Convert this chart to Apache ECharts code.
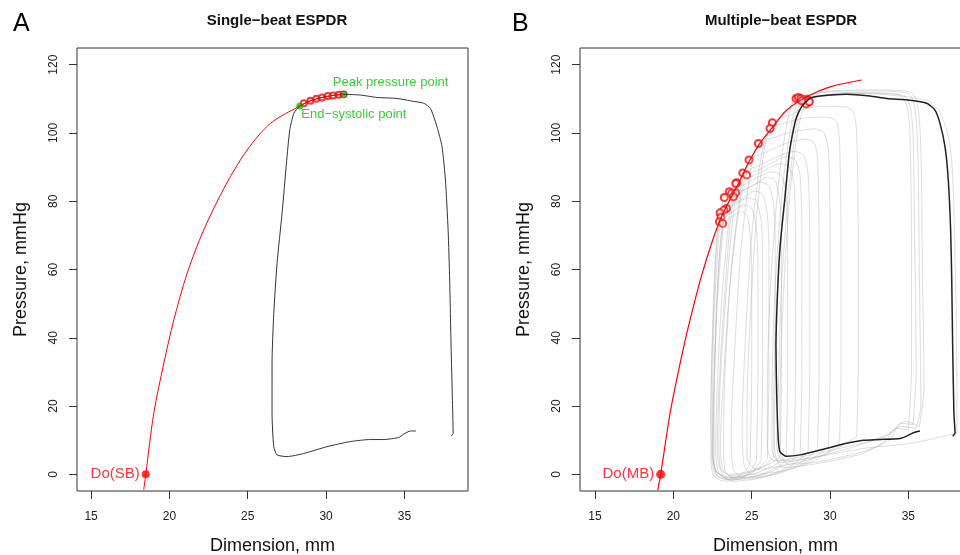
<!DOCTYPE html>
<html>
<head>
<meta charset="utf-8">
<script src="https://cdn.jsdelivr.net/npm/echarts@6/dist/echarts.min.js"></script>
<style>
  html, body { margin: 0; padding: 0; background: #fff; }
  #chart { width: 960px; height: 555px; }
</style>
</head>
<body>
<div id="chart"></div>
<script>
// ---- data (dimension mm, pressure mmHg) ----
const xTicks = [15, 20, 25, 30, 35]
const yTicks = [0, 20, 40, 60, 80, 100, 120]

// panel A : single beat
const espdrA = [[18.36, -4.6], [18.49, 0], [19.0, 17.9], [19.64, 32.5], [20.28, 45.2], [21.13, 58.9], [22.19, 71.6],
  [23.6, 84.8], [24.96, 95], [26.45, 102.8], [28.32, 107.9], [29.0, 109.4], [29.74, 110.4], [30.45, 111.0], [31.13, 111.3]]
const loopA = [[37.98, 11.2], [38.11, 12.0], [38.06, 22.7], [37.98, 37.4], [37.89, 56.9], [37.79, 71.6], [37.62, 86.2],
  [37.40, 96.0], [37.08, 101.8], [36.66, 107.2], [36.23, 108.7], [35.38, 109.4], [34.53, 110.1], [33.25, 110.4],
  [32.19, 111.1], [31.13, 111.3], [30.45, 111.0], [29.74, 110.4], [29.0, 109.4], [28.32, 107.9], [27.94, 105.7],
  [27.68, 100.8], [27.47, 91.1], [27.19, 76.4], [26.87, 61.8], [26.66, 47.1], [26.55, 32.5], [26.55, 17.9],
  [26.66, 8.1], [26.87, 5.7], [27.51, 5.2], [28.57, 6.1], [30.06, 8.1], [31.55, 9.6], [32.83, 10.2], [33.68, 10.2],
  [34.64, 10.8], [34.96, 11.8], [35.38, 12.7], [35.74, 12.7]]
const circlesA = [[28.58, 108.7], [29.0, 109.4], [29.38, 110.0], [29.74, 110.4], [30.11, 110.8], [30.45, 111.0], [30.81, 111.2]]
const endSystolicA = [28.32, 107.9]
const peakA = [31.13, 111.3]
const doSB = [18.49, 0]

// panel B : multiple beats
const espdrB = [[19.0, -4.6], [19.19, 0], [19.79, 17.9], [20.43, 32.5], [21.06, 45.2], [21.91, 59.9], [22.98, 74.5],
  [24.04, 84.2], [24.89, 92.1], [25.53, 97.0], [26.3, 101.5], [27.24, 106.7], [28.51, 110.6], [30.0, 113.5], [32.02, 115.5]]
const loopB = [[37.83, 11.2], [37.98, 12.0], [37.91, 17.9], [37.83, 37.4], [37.77, 56.9], [37.70, 71.6], [37.55, 86.2],
  [37.34, 96.0], [37.02, 102.8], [36.70, 106.7], [36.17, 108.7], [35.11, 109.6], [33.62, 110.1], [32.55, 110.8],
  [31.06, 111.3], [29.36, 110.8], [28.72, 110.1], [28.19, 107.7], [27.87, 104.7], [27.66, 100.8], [27.40, 94.0],
  [27.13, 81.3], [26.81, 66.7], [26.64, 52.0], [26.55, 37.4], [26.60, 22.7], [26.70, 10.0], [26.81, 6.6],
  [27.23, 5.3], [28.09, 5.7], [29.36, 7.1], [31.06, 9.1], [32.13, 10.0], [33.19, 10.2], [34.47, 10.5],
  [34.89, 11.2], [35.32, 12.2], [35.74, 12.7]]
const circlesB = [[26.32, 103.0], [26.17, 101.3], [25.43, 96.9], [24.83, 92.1], [24.43, 88.3], [24.68, 87.7],
  [24.04, 85.4], [23.98, 85.2], [23.57, 82.8], [23.72, 82.3], [23.98, 82.5], [23.83, 81.3], [23.25, 81.1],
  [23.40, 77.9], [23.23, 77.4], [22.98, 76.6], [23.04, 75.3], [22.94, 74.0], [23.15, 73.5],
  [27.83, 110.1], [27.98, 110.4], [28.13, 110.1], [28.30, 109.8], [28.40, 109.4], [28.51, 109.9], [28.62, 109.6],
  [28.47, 108.5], [28.68, 109.1], [28.19, 109.4]]
const doMB = [19.19, 0]
const grayLoops = [
  [[35.5, 13.5], [35.8, 20], [35.7, 60], [35.6, 95], [35.4, 108], [35.0, 111.5], [33, 112.3], [30, 112], [27.83, 110.1], [27.3, 104], [26.7, 85], [26.2, 55], [26.0, 25], [26.0, 8], [26.4, 4], [28, 5], [31, 8], [33.5, 11], [34.5, 14], [35.5, 13.5]],
  [[35.7, 14], [36, 25], [35.9, 60], [35.8, 95], [35.6, 108], [35.2, 111.8], [33, 112.6], [30, 112.3], [28.13, 110.1], [27.6, 104], [27.0, 85], [26.5, 55], [26.3, 25], [26.3, 7], [26.8, 3.5], [28.5, 4.5], [31.5, 8], [33.8, 12], [34.8, 15.5], [35.7, 14]],
  [[38.1, 12.1], [38.1, 25], [38.0, 60], [37.8, 90], [37.5, 100], [37.0, 106], [36.2, 109.5], [34, 111], [31, 111.8], [28.4, 109.4], [27.9, 103], [27.4, 85], [26.9, 55], [26.7, 25], [26.6, 8], [27, 4], [29, 5], [32, 7.5], [35.3, 9.2], [38.1, 12.1]],
  [[35.3, 14.5], [35.5, 30], [35.4, 70], [35.3, 100], [35.1, 108], [34.7, 111], [32.5, 111.8], [30.5, 111.4], [28.62, 109.6], [28.0, 102], [27.4, 80], [27.0, 50], [26.8, 20], [26.8, 7], [27.3, 3], [29, 3.5], [32, 6.5], [33.8, 10], [34.5, 15], [35.3, 14.5]],
  [[35.0, 13], [35.2, 30], [35.2, 70], [35.1, 100], [34.9, 108], [34.4, 111.2], [32, 111.6], [30, 111.0], [28.3, 109.8], [27.7, 103], [27.1, 82], [26.6, 50], [26.4, 20], [26.5, 6], [27, 2], [29, 3], [32, 6], [33.6, 10], [34.2, 13.5], [35.0, 13]],
  [[31.7, 11], [31.8, 30], [31.8, 70], [31.7, 100], [31.5, 106], [31.0, 107.6], [29.5, 107.8], [28.5, 107.2], [27.3, 105], [26.32, 103.0], [25.8, 95], [25.3, 75], [24.9, 45], [24.7, 20], [24.7, 5], [25.3, 1.5], [27, 2.5], [29.5, 5.5], [31.7, 11]],
  [[30.6, 9], [30.7, 30], [30.7, 70], [30.6, 98], [30.4, 103.5], [29.8, 104.6], [28.5, 104.5], [27.2, 103], [26.17, 101.3], [25.6, 93], [25.0, 70], [24.6, 40], [24.4, 15], [24.5, 3], [25, 0], [27, 1], [29, 4], [30.6, 9]],
  [[29.9, 8], [30.0, 30], [30.0, 70], [29.9, 95], [29.6, 100.2], [29.0, 101.2], [27.8, 100.5], [26.5, 98.8], [25.43, 96.9], [24.9, 88], [24.3, 65], [23.9, 35], [23.7, 12], [23.8, 2], [24.4, -1], [26.5, 0], [28.5, 3.5], [29.9, 8]],
  [[29.2, 7.5], [29.3, 30], [29.3, 70], [29.2, 92], [29.0, 97], [28.4, 98.2], [27.2, 97], [26, 94.5], [24.83, 92.1], [24.3, 83], [23.7, 60], [23.3, 30], [23.2, 10], [23.3, 1], [24, -1.5], [26, -0.5], [28, 3], [29.2, 7.5]],
  [[28.6, 6.5], [28.7, 30], [28.7, 70], [28.6, 88], [28.3, 93.5], [27.7, 94.6], [26.6, 93], [25.5, 90.5], [24.43, 88.3], [23.9, 79], [23.4, 55], [23.0, 28], [22.9, 8], [23.1, 0], [23.8, -2], [25.6, -1], [27.5, 2.5], [28.6, 6.5]],
  [[28.1, 6], [28.2, 30], [28.2, 70], [28.1, 87], [27.8, 92], [27.2, 93], [26.2, 91], [25.4, 89], [24.68, 87.7], [24.2, 78], [23.6, 55], [23.2, 28], [23.0, 8], [23.2, 1], [24, -1], [25.8, 0], [27.2, 3], [28.1, 6]],
  [[27.7, 6], [27.8, 30], [27.8, 70], [27.7, 85], [27.4, 90], [26.8, 91], [25.8, 89], [24.9, 87], [24.04, 85.4], [23.6, 76], [23.1, 52], [22.8, 26], [22.7, 7], [22.9, 0.5], [23.6, -1.5], [25.3, -0.5], [26.8, 2.5], [27.7, 6]],
  [[27.2, 5.5], [27.3, 30], [27.3, 70], [27.2, 82], [26.9, 87.5], [26.3, 88.6], [25.3, 86.8], [24.4, 84.5], [23.57, 82.8], [23.2, 73], [22.8, 50], [22.6, 25], [22.55, 7], [22.7, 1], [23.3, -1], [25, 0], [26.4, 2.5], [27.2, 5.5]],
  [[26.8, 5], [26.9, 30], [26.9, 70], [26.8, 80], [26.5, 86], [26.0, 87], [25.2, 85], [24.6, 83.5], [23.98, 82.5], [23.6, 72], [23.2, 48], [22.9, 24], [22.8, 7], [23.0, 1.5], [23.6, 0], [25, 1], [26.1, 3], [26.8, 5]],
  [[26.4, 5], [26.5, 30], [26.5, 70], [26.4, 79], [26.1, 84.5], [25.6, 85.6], [24.8, 84], [24.0, 82.4], [23.25, 81.1], [22.9, 70], [22.6, 46], [22.5, 22], [22.5, 6], [22.7, 1], [23.3, -0.5], [24.8, 0.5], [25.8, 2.5], [26.4, 5]],
  [[26.0, 4.5], [26.1, 30], [26.1, 65], [26.0, 76], [25.7, 82], [25.2, 83], [24.5, 81], [23.9, 79.3], [23.40, 77.9], [23.0, 67], [22.7, 44], [22.55, 20], [22.5, 5], [22.8, 0.5], [23.5, -1], [24.8, 0], [25.5, 2], [26.0, 4.5]],
  [[25.6, 4], [25.7, 30], [25.7, 65], [25.6, 74], [25.3, 80], [24.8, 81], [24.1, 79.5], [23.5, 77.8], [22.98, 76.6], [22.7, 65], [22.5, 42], [22.4, 20], [22.45, 5], [22.7, 0], [23.4, -1.5], [24.6, -0.5], [25.2, 1.5], [25.6, 4]],
  [[25.3, 4], [25.4, 30], [25.4, 62], [25.3, 72], [25.0, 78], [24.5, 79], [23.8, 77], [23.3, 75.2], [22.94, 74.0], [22.7, 62], [22.5, 40], [22.4, 18], [22.4, 4], [22.6, -0.5], [23.3, -2], [24.4, -1], [25.0, 1.5], [25.3, 4]],
  [[24.9, 3.5], [25.0, 30], [25.0, 60], [24.9, 70], [24.7, 76], [24.3, 77], [23.8, 75.5], [23.4, 74.3], [23.15, 73.5], [22.9, 62], [22.7, 40], [22.6, 18], [22.6, 4], [22.8, -0.5], [23.4, -1.5], [24.2, -0.5], [24.7, 1.5], [24.9, 3.5]]
]

const FONT = "'Liberation Sans', Arial, sans-serif"
const RED = '#ff0000'
const GREEN = '#00c400'

const chart = echarts.init(document.getElementById('chart'), null, { renderer: 'canvas' })

const makeX = (gridIndex, min, max) => ({
  type: 'value',
  gridIndex,
  min,
  max,
  axisLine: { show: false, onZero: false },
  splitLine: { show: false },
  axisTick: { show: true, length: 8, customValues: xTicks, lineStyle: { color: '#333' } },
  axisLabel: { customValues: xTicks, margin: 20, fontSize: 12, color: '#222', fontFamily: FONT },
  name: 'Dimension, mm',
  nameLocation: 'middle',
  nameGap: 46,
  nameTextStyle: { fontSize: 18, color: '#111', fontFamily: FONT }
})

const makeY = (gridIndex) => ({
  type: 'value',
  gridIndex,
  min: -4.88,
  max: 124.88,
  axisLine: { show: false, onZero: false },
  splitLine: { show: false },
  axisTick: { show: true, length: 8, customValues: yTicks, lineStyle: { color: '#333' } },
  axisLabel: { customValues: yTicks, rotate: 90, margin: 17, fontSize: 12, color: '#222', fontFamily: FONT },
  name: 'Pressure, mmHg',
  nameLocation: 'middle',
  nameGap: 47,
  nameTextStyle: { fontSize: 18, color: '#111', fontFamily: FONT }
})

const option = {
  animation: false,
  backgroundColor: '#fff',
  textStyle: { fontFamily: FONT },
  title: [
    { text: 'Single−beat ESPDR', left: 272, top: 8, textAlign: 'center',
      textStyle: { fontSize: 15, fontWeight: 'bold', color: '#111', fontFamily: FONT } },
    { text: 'Multiple−beat ESPDR', left: 776, top: 8, textAlign: 'center',
      textStyle: { fontSize: 15, fontWeight: 'bold', color: '#111', fontFamily: FONT } }
  ],
  graphic: [
    { type: 'text', left: 13, top: 12, style: { text: 'A', fontSize: 25, fill: '#000', fontFamily: FONT } },
    { type: 'text', left: 512, top: 12, style: { text: 'B', fontSize: 25, fill: '#000', fontFamily: FONT } }
  ],
  grid: [
    { left: 77, top: 48, width: 391, height: 443, outerBoundsMode: 'none', containLabel: false,
      show: true, borderColor: '#333', borderWidth: 1, backgroundColor: 'transparent' },
    { left: 580, top: 48, width: 391, height: 443, outerBoundsMode: 'none', containLabel: false,
      show: true, borderColor: '#333', borderWidth: 1, backgroundColor: 'transparent' }
  ],
  xAxis: [makeX(0, 14.1, 39.06), makeX(1, 14.04, 39.0)],
  yAxis: [makeY(0), makeY(1)],
  series: [
    // ---- panel A ----
    { type: 'line', xAxisIndex: 0, yAxisIndex: 0, data: loopA, smooth: 0.2, showSymbol: false,
      lineStyle: { color: '#333', width: 1 } },
    { type: 'line', xAxisIndex: 0, yAxisIndex: 0, data: espdrA, smooth: 0.3, showSymbol: false,
      lineStyle: { color: RED, width: 1 } },
    { type: 'scatter', xAxisIndex: 0, yAxisIndex: 0, data: circlesA, symbol: 'emptyCircle', symbolSize: 6,
      itemStyle: { color: RED, borderColor: RED, borderWidth: 0.8 } },
    { type: 'scatter', xAxisIndex: 0, yAxisIndex: 0, data: [endSystolicA], symbolSize: 7,
      itemStyle: { color: GREEN },
      label: { show: true, formatter: 'End−systolic point', position: [5, 12], align: 'left', verticalAlign: 'middle',
        color: GREEN, fontSize: 13, fontFamily: FONT } },
    { type: 'scatter', xAxisIndex: 0, yAxisIndex: 0, data: [peakA], symbolSize: 7,
      itemStyle: { color: GREEN, borderColor: '#d00000', borderWidth: 1 },
      label: { show: true, formatter: 'Peak pressure point', position: [-7, -8], align: 'left', verticalAlign: 'middle',
        color: GREEN, fontSize: 13, fontFamily: FONT } },
    { type: 'scatter', xAxisIndex: 0, yAxisIndex: 0, data: [doSB], symbolSize: 8,
      itemStyle: { color: RED },
      label: { show: true, formatter: 'Do(SB)', position: 'left', distance: 2, color: RED, fontSize: 15, fontFamily: FONT } },
    // ---- panel B ----
    ...grayLoops.map(loop => ({
      type: 'line', xAxisIndex: 1, yAxisIndex: 1, data: loop, smooth: 0.25, showSymbol: false, silent: true,
      lineStyle: { color: 'rgba(170,170,170,0.4)', width: 1 }
    })),
    { type: 'line', xAxisIndex: 1, yAxisIndex: 1, data: loopB, smooth: 0.2, showSymbol: false,
      lineStyle: { color: '#222', width: 1.5 } },
    { type: 'line', xAxisIndex: 1, yAxisIndex: 1, data: espdrB, smooth: 0.3, showSymbol: false,
      lineStyle: { color: RED, width: 1.2 } },
    { type: 'scatter', xAxisIndex: 1, yAxisIndex: 1, data: circlesB, symbol: 'emptyCircle', symbolSize: 7,
      itemStyle: { color: RED, borderColor: RED, borderWidth: 0.8 } },
    { type: 'scatter', xAxisIndex: 1, yAxisIndex: 1, data: [doMB], symbolSize: 9,
      itemStyle: { color: RED },
      label: { show: true, formatter: 'Do(MB)', position: 'left', distance: 2, color: RED, fontSize: 15, fontFamily: FONT } }
  ]
}

chart.setOption(option)
window.addEventListener('resize', () => chart.resize())
</script>
</body>
</html>
